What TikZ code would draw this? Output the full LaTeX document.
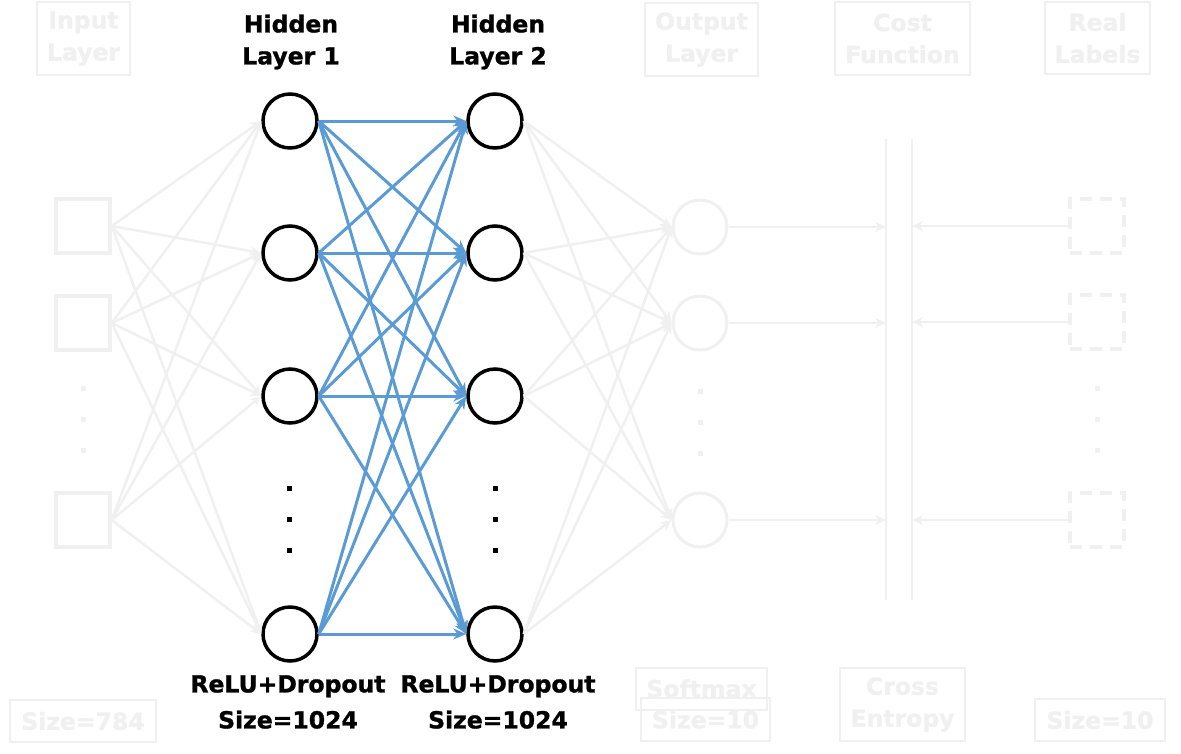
\documentclass[tikz,border=0pt]{standalone}
\usepackage{fontspec}
\setmainfont{DejaVu Sans}[BoldFeatures={FakeBold=1.2}]
\usetikzlibrary{arrows.meta}

\definecolor{tenue}{RGB}{240,240,240}
\definecolor{azul}{RGB}{91,155,213}
\newcommand{\titulo}{\bfseries\fontsize{23.5}{32}\selectfont}

\tikzset{
  neurona/.style={circle, draw, line width=3.5pt, minimum size=54pt, inner sep=0pt},
  neuronatenue/.style={circle, draw=tenue, line width=3pt, minimum size=54pt, inner sep=0pt},
  entrada/.style={rectangle, draw=tenue, line width=3.5pt, minimum size=54pt, inner sep=0pt},
  etiqueta/.style={rectangle, draw=tenue, line width=3.5pt, dash pattern=on 12pt off 8pt, minimum size=54pt, inner sep=0pt},
  caja/.style={rectangle, draw=tenue, line width=2pt, text=tenue, font=\titulo, align=center, inner sep=0pt},
  titulo/.style={font=\titulo, align=center},
  conexion/.style={azul, line width=3pt, -{Stealth[length=13pt,width=11pt]}},
  conexiontenue/.style={tenue, line width=2.5pt, -{Stealth[length=11pt,width=10pt]}},
}

\begin{document}
\begin{tikzpicture}[x=1pt,y=-1pt]
  \useasboundingbox (0,0) rectangle (1181,753);

  % Capa de entrada
  \node[entrada] (in1) at (83,226) {};
  \node[entrada] (in2) at (83,323) {};
  \node[entrada] (in3) at (83,520) {};

  % Capas ocultas
  \foreach \n/\y in {1/121,2/253,3/396,4/634}{
    \node[neurona] (ha\n) at (290,\y) {};
    \node[neurona] (hb\n) at (495,\y) {};
  }

  % Capa de salida
  \node[neuronatenue] (out1) at (700,227) {};
  \node[neuronatenue] (out2) at (700,323) {};
  \node[neuronatenue] (out3) at (700,520) {};

  % Etiquetas reales
  \node[etiqueta] (lab1) at (1097,226) {};
  \node[etiqueta] (lab2) at (1097,322) {};
  \node[etiqueta] (lab3) at (1097,520) {};

  % Puntos
  \foreach \y in {388,419,450}{
    \fill[tenue] (80.5,\y-2.5) rectangle (85.5,\y+2.5);
    \fill[tenue] (1094.5,\y-2.5) rectangle (1099.5,\y+2.5);
    \fill[tenue] (697.5,\y+0.5) rectangle (702.5,\y+5.5);
  }
  \foreach \y in {488,519,550}{
    \fill (286.5,\y-2.5) rectangle (291.5,\y+2.5);
    \fill (492.5,\y-2.5) rectangle (497.5,\y+2.5);
  }

  % Funcion de coste
  \coordinate (costA) at (886,139);
  \coordinate (costB) at (912,139);
  \draw[tenue, line width=2.5pt] (costA) -- (886,600);
  \draw[tenue, line width=2.5pt] (costB) -- (912,600);

  % Conexiones
  \foreach \i in {1,2,3}
    \foreach \j in {1,...,4}
      \draw[conexiontenue] (in\i.east) -- (ha\j.west);
  \foreach \i in {1,...,4}
    \foreach \j in {1,2,3}
      \draw[conexiontenue] (hb\i.east) -- (out\j.west);
  \foreach \i in {1,...,4}
    \foreach \j in {1,...,4}
      \draw[conexion] (ha\i.east) -- (hb\j.west);
  \foreach \j in {1,2,3}{
    \draw[conexiontenue] (out\j.east) -- (out\j.east -| costA);
    \draw[conexiontenue] (lab\j.west) -- (lab\j.west -| costB);
  }

  % Titulos
  \node[caja, minimum width=93pt, minimum height=73pt] (tin) at (83.5,38.5) {Input\\Layer};
  \node[titulo] (tha) at (291,42) {Hidden\\Layer 1};
  \node[titulo] (thb) at (498,42) {Hidden\\Layer 2};
  \node[caja, minimum width=113pt, minimum height=73pt] (tout) at (701.5,39.5) {Output\\Layer};
  \node[caja, minimum width=135pt, minimum height=73pt] (tcost) at (902.5,38.5) {Cost\\Function};
  \node[caja, minimum width=105pt, minimum height=72pt] (tlab) at (1097.5,38) {Real\\Labels};

  % Pie
  \node[caja, minimum width=146pt, minimum height=42pt] (sin) at (83,721) {Size=784};
  \node[titulo] (sha) at (288,702) {ReLU+Dropout\\[4pt]Size=1024};
  \node[titulo] (shb) at (498,702) {ReLU+Dropout\\[4pt]Size=1024};
  \node[caja, minimum width=131pt, minimum height=42pt] (ssoft) at (701.5,688.5) {Softmax};
  \node[caja, minimum width=129pt, minimum height=43pt] (sout) at (705.5,719.5) {Size=10};
  \node[caja, minimum width=125pt, minimum height=73pt] (scost) at (902.5,704.5) {Cross\\Entropy};
  \node[caja, minimum width=130pt, minimum height=42pt] (slab) at (1100,720) {Size=10};
\end{tikzpicture}
\end{document}
